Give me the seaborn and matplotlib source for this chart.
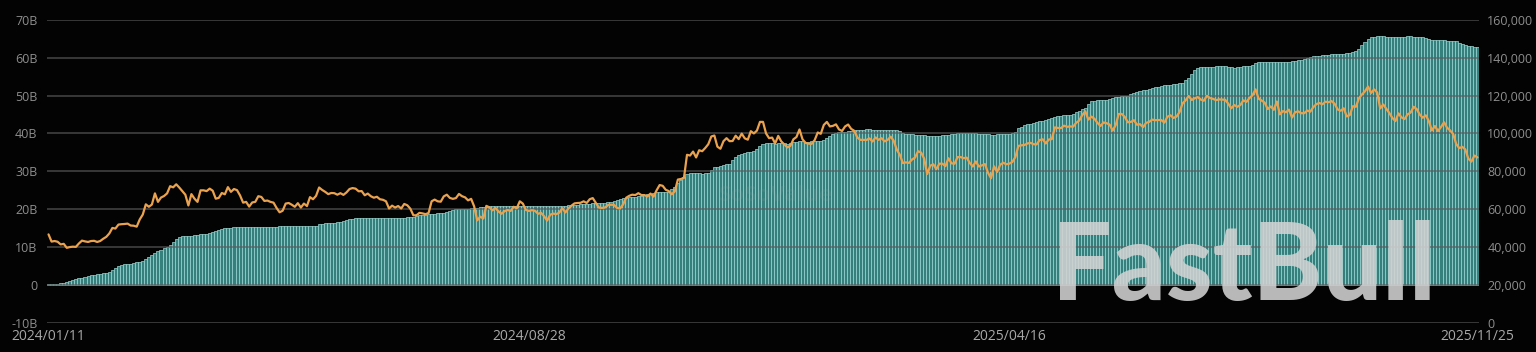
### cumulative net inflow of US spot BTC ETFs vs BTC price

import matplotlib
matplotlib.use('Agg')
import matplotlib.pyplot as plt
import numpy as np
import pandas as pd
import seaborn as sns

# NYSE holidays inside the plotted window (used to build the trading-day categories)
holidays = ['2024-01-15', '2024-02-19', '2024-03-29', '2024-05-27', '2024-06-19', '2024-07-04',
            '2024-09-02', '2024-11-28', '2024-12-25', '2025-01-01', '2025-01-09', '2025-01-20',
            '2025-02-17', '2025-04-18', '2025-05-26', '2025-06-19', '2025-07-04', '2025-09-01']

tick_dates = ['2024/01/11', '2024/08/28', '2025/04/16', '2025/11/25']

# cumulative total net inflow [B USD], one value per trading day
inflow = [
    # 2024 jan (from 11th)
    0.1, 0.2, 0.3, 0.3, 0.4, 0.5, 0.7, 1.0, 1.3, 1.5, 1.7, 1.9, 2.1, 2.3,
    # feb
    2.5, 2.6, 2.8, 2.9, 3.0, 3.2, 3.3, 3.8, 4.4, 4.9, 5.2, 5.4, 5.5, 5.6, 5.7, 5.9, 6.0, 6.3, 6.8, 7.3,
    # mar
    7.8, 8.3, 8.8, 9.2, 9.6, 9.9, 10.6, 11.4, 12.0, 12.6, 12.8, 12.9, 12.9, 13.0, 13.1, 13.2, 13.3, 13.4, 13.5, 13.7,
    # apr
    13.9, 14.1, 14.4, 14.7, 14.9, 15.0, 15.1, 15.2, 15.2, 15.3, 15.3, 15.3, 15.3, 15.3, 15.3, 15.3, 15.3, 15.3, 15.3, 15.3, 15.3, 15.3,
    # may
    15.4, 15.4, 15.4, 15.4, 15.4, 15.4, 15.4, 15.4, 15.4, 15.4, 15.4, 15.4, 15.5, 16.0, 16.1, 16.2, 16.3, 16.3, 16.4, 16.5, 16.6, 16.8,
    # jun
    17.1, 17.3, 17.5, 17.6, 17.7, 17.7, 17.7, 17.7, 17.7, 17.7, 17.7, 17.7, 17.6, 17.6, 17.6, 17.6, 17.6, 17.7, 17.7,
    # jul
    17.7, 17.8, 17.8, 17.8, 18.2, 18.4, 18.4, 18.5, 18.6, 18.7, 18.8, 18.9, 18.9, 18.9, 19.2, 19.5, 19.7, 19.9, 19.9, 19.9, 20.0, 20.1,
    # aug
    20.2, 20.3, 20.4, 20.5, 20.6, 20.6, 20.7, 20.7, 20.7, 20.8, 20.8, 20.8, 20.8, 20.8, 20.8, 20.8, 20.8, 20.9, 20.9, 20.9, 20.9, 20.9,
    # sep
    20.9, 20.9, 20.9, 20.9, 20.9, 20.9, 20.9, 20.9, 20.9, 20.9, 21.0, 21.0, 21.1, 21.2, 21.3, 21.3, 21.4, 21.4, 21.5, 21.5,
    # oct
    21.5, 21.6, 21.7, 21.8, 21.9, 22.0, 22.3, 22.6, 22.8, 22.9, 23.1, 23.3, 23.3, 23.4, 23.5, 23.7, 23.9, 24.1, 24.2, 24.4, 24.5, 24.6, 24.6,
    # nov
    24.6, 25.3, 25.9, 26.8, 27.7, 28.6, 29.4, 29.5, 29.5, 29.6, 29.5, 29.4, 29.5, 29.6, 30.3, 31.0, 31.2, 31.4, 31.7, 31.9,
    # dec
    32.0, 33.0, 33.9, 34.2, 34.5, 34.8, 35.0, 35.2, 35.4, 36.0, 36.7, 37.2, 37.5, 37.6, 37.4, 37.3, 37.5, 37.6, 37.5, 37.3, 37.5,
    # 2025 jan
    37.7, 37.8, 37.9, 37.9, 37.8, 37.8, 37.9, 37.9, 37.9, 38.0, 38.3, 38.9, 39.4, 39.8, 40.2, 40.4, 40.5, 40.5, 40.6, 40.7,
    # feb
    40.8, 40.9, 41.0, 41.0, 41.1, 41.1, 41.0, 41.0, 41.0, 41.0, 40.9, 40.9, 40.9, 40.9, 40.8, 40.6, 40.2, 39.9, 39.9,
    # mar
    39.8, 39.7, 39.6, 39.6, 39.5, 39.4, 39.4, 39.4, 39.4, 39.4, 39.5, 39.6, 39.7, 39.8, 39.9, 40.0, 40.0, 40.1, 40.1, 40.0, 40.0,
    # apr
    40.0, 39.9, 39.8, 39.8, 39.8, 39.7, 39.7, 39.8, 39.8, 39.8, 39.9, 39.9, 40.0, 40.3, 41.4, 41.8, 42.2, 42.5, 42.6, 42.8, 43.0,
    # may
    43.2, 43.4, 43.6, 43.9, 44.1, 44.3, 44.5, 44.6, 44.8, 45.0, 45.0, 45.2, 45.6, 46.0, 46.4, 46.7, 47.8, 48.5, 48.7, 48.9, 48.8,
    # jun
    48.9, 48.9, 49.1, 49.3, 49.6, 49.7, 49.8, 49.9, 50.0, 50.3, 50.6, 50.9, 51.1, 51.4, 51.6, 51.8, 52.0, 52.2, 52.4, 52.6,
    # jul
    52.7, 52.8, 52.9, 53.1, 53.2, 53.3, 53.4, 54.0, 54.7, 55.8, 56.9, 57.3, 57.5, 57.6, 57.6, 57.7, 57.7, 57.8, 57.8, 57.8, 57.8, 57.6,
    # aug
    57.5, 57.3, 57.5, 57.6, 57.8, 57.8, 57.9, 58.2, 58.5, 58.8, 58.9, 59.0, 59.0, 59.0, 58.9, 58.8, 58.8, 58.9, 59.0, 59.0, 59.1,
    # sep
    59.2, 59.3, 59.4, 59.6, 59.9, 60.2, 60.4, 60.5, 60.6, 60.7, 60.8, 60.8, 60.9, 61.0, 61.0, 61.0, 61.1, 61.2, 61.4, 61.6, 61.8,
    # oct
    62.4, 63.5, 64.3, 65.0, 65.5, 65.6, 65.7, 65.7, 65.7, 65.6, 65.6, 65.6, 65.5, 65.4, 65.5, 65.6, 65.7, 65.7, 65.6, 65.6, 65.5, 65.4, 65.2,
    # nov (to 25th)
    65.0, 64.8, 64.8, 64.7, 64.6, 64.6, 64.5, 64.5, 64.4, 64.4, 64.0, 63.6, 63.4, 63.2, 63.0, 62.9, 62.9,
]

# BTC price [k USD], one value per trading day
btc_price = [
    # 2024 jan (from 11th)
    46.6, 42.8, 43.1, 42.7, 41.3, 41.6, 39.5, 39.9, 40.1, 40.0, 41.8, 43.3, 42.9, 42.6,
    # feb
    43.1, 43.2, 42.6, 43.1, 44.3, 45.3, 47.1, 50.0, 49.7, 51.8, 52.0, 52.1, 52.3, 51.3, 51.2, 50.7, 54.5, 57.1, 62.5, 61.2,
    # mar
    62.4, 68.3, 63.8, 66.1, 66.9, 68.3, 72.1, 71.5, 73.1, 71.4, 69.5, 67.6, 61.9, 67.9, 65.5, 63.8, 69.9, 69.9, 69.5, 70.8,
    # apr
    69.7, 65.5, 65.9, 68.5, 67.8, 71.6, 69.1, 70.6, 70.0, 67.2, 63.4, 63.8, 61.3, 63.5, 63.8, 66.8, 66.4, 64.3, 64.5, 63.8, 63.4, 60.6,
    # may
    58.3, 59.1, 62.9, 63.2, 62.3, 61.2, 63.1, 60.8, 62.9, 61.6, 66.3, 65.2, 67.0, 71.4, 70.1, 69.1, 67.9, 68.5, 68.4, 67.6, 68.4, 67.5,
    # jun
    68.8, 70.6, 71.1, 70.8, 69.4, 69.5, 67.3, 68.2, 66.8, 66.0, 66.5, 65.2, 64.9, 64.1, 60.3, 61.8, 60.8, 61.6, 60.3,
    # jul
    62.7, 62.0, 60.2, 56.7, 56.7, 58.0, 57.7, 57.3, 57.9, 64.1, 65.0, 64.1, 63.9, 66.7, 67.6, 65.9, 65.4, 65.8, 68.0, 66.8, 66.2, 64.6,
    # aug
    65.4, 61.4, 54.0, 56.0, 55.0, 61.7, 60.9, 59.3, 60.6, 58.7, 57.5, 58.9, 59.5, 59.0, 61.2, 60.4, 64.1, 62.9, 59.5, 59.0, 59.4, 59.1,
    # sep
    57.5, 58.0, 56.2, 53.9, 57.0, 57.6, 57.3, 58.1, 60.5, 58.2, 60.3, 61.8, 63.0, 63.2, 63.3, 64.1, 63.2, 65.2, 65.8, 63.3,
    # oct
    60.8, 60.6, 60.8, 62.1, 62.3, 62.2, 60.6, 60.3, 62.5, 66.0, 67.0, 67.6, 67.4, 68.4, 67.4, 67.4, 66.7, 68.2, 66.6, 69.9, 72.7, 72.3, 70.2,
    # nov
    69.5, 67.8, 69.4, 75.6, 75.9, 76.5, 88.7, 88.3, 90.4, 87.3, 91.1, 90.6, 92.3, 94.3, 98.4, 98.9, 93.0, 91.9, 95.9, 97.5,
    # dec
    95.9, 96.0, 98.8, 97.0, 99.9, 97.4, 96.7, 101.2, 100.0, 101.5, 106.1, 106.1, 100.0, 97.5, 97.8, 94.7, 98.7, 95.8, 94.2, 92.6, 93.4,
    # 2025 jan
    96.9, 98.1, 102.1, 96.9, 95.0, 94.6, 94.5, 96.5, 100.5, 99.8, 104.5, 106.1, 103.7, 104.0, 104.8, 102.1, 101.3, 103.7, 104.7, 102.4,
    # feb
    101.4, 97.9, 96.6, 96.6, 96.5, 97.4, 95.7, 97.9, 96.6, 97.5, 95.8, 96.6, 98.3, 96.1, 91.4, 88.7, 84.3, 84.7, 84.4,
    # mar
    86.2, 87.2, 90.6, 89.9, 86.7, 78.5, 82.9, 83.7, 81.1, 84.0, 84.0, 82.7, 86.9, 84.2, 84.0, 87.5, 87.5, 86.9, 87.2, 84.4, 82.5,
    # apr
    85.2, 82.5, 83.1, 83.8, 79.2, 76.3, 82.6, 79.6, 83.4, 84.5, 83.7, 84.0, 84.9, 87.5, 93.4, 93.7, 93.9, 94.7, 95.0, 94.3, 94.2,
    # may
    96.5, 96.9, 94.7, 96.8, 97.0, 103.2, 102.9, 102.8, 104.1, 103.5, 103.7, 103.6, 105.6, 106.8, 109.7, 111.7, 107.3, 108.9, 107.8, 105.6, 103.9,
    # jun
    105.8, 105.4, 104.7, 101.5, 104.4, 110.3, 110.3, 108.7, 105.9, 106.1, 107.0, 104.6, 104.9, 103.3, 105.6, 106.1, 107.3, 107.0, 107.1, 107.1,
    # jul
    105.7, 108.8, 109.6, 108.2, 108.9, 111.3, 115.9, 117.5, 119.8, 117.7, 118.6, 119.2, 117.9, 117.3, 119.9, 118.7, 118.3, 117.6, 118.0, 117.9, 117.8, 115.8,
    # aug
    113.3, 115.0, 114.1, 115.0, 117.5, 116.7, 118.7, 120.2, 123.3, 118.4, 117.4, 116.3, 112.9, 114.3, 112.5, 116.9, 110.1, 111.8, 111.2, 112.6, 108.4,
    # sep
    111.2, 111.7, 110.7, 110.7, 112.1, 111.5, 113.9, 115.5, 116.1, 115.4, 116.8, 116.5, 117.1, 115.7, 112.7, 112.0, 113.3, 109.0, 109.7, 114.4, 114.1,
    # oct
    118.6, 120.6, 122.3, 124.8, 121.4, 123.3, 121.7, 113.2, 115.3, 113.0, 110.8, 108.2, 106.5, 110.6, 108.5, 107.6, 110.1, 111.0, 114.1, 112.9, 110.0, 108.3, 109.6,
    # nov (to 25th)
    106.5, 101.6, 103.9, 101.3, 103.4, 105.9, 103.0, 101.6, 99.7, 94.4, 92.2, 92.9, 91.5, 86.6, 85.1, 88.3, 87.3,
]

dates = pd.bdate_range('2024-01-11', '2025-11-25', freq='C', holidays=holidays).strftime('%Y/%m/%d').tolist()
if len(dates) != len(inflow) or len(dates) != len(btc_price):
    raise RuntimeError(f'length mismatch: dates {len(dates)}, inflow {len(inflow)}, price {len(btc_price)}')

df = pd.DataFrame({'pos': np.arange(len(dates)), 'date': dates,
                   'inflow': inflow, 'price': np.asarray(btc_price) * 1000})

sns.set_theme(style='dark')
plt.rcParams['font.family'] = ['Open Sans', 'DejaVu Sans']

bg = '#030303'
txt = '#8e8e8e'
fig = plt.figure(figsize=(15.36, 3.52), dpi=100, facecolor=bg)
ax = fig.add_axes([0.0306, 0.0838, 0.9323, 0.8594])
ax.set_facecolor(bg)

# bars touch each other, the light edges give the fine vertical stripes
sns.barplot(data=df, x='pos', y='inflow', color='#357f7c', saturation=1, width=1.0,
            edgecolor='#a8e6e2', linewidth=0.45, ax=ax)
ax.set_ylim(-10, 70)
ax.set_xlim(-0.5, len(dates) - 0.5)
ax.set_yticks(range(-10, 80, 10))
ax.set_yticklabels(['-10B', '0', '10B', '20B', '30B', '40B', '50B', '60B', '70B'])
ax.grid(axis='y', color='#5a5a5a', lw=1.2, alpha=0.7)
ax.grid(axis='x', visible=False)
ax.set_axisbelow(False)
tick_pos = [dates.index(d) for d in tick_dates]
ax.set_xticks(tick_pos)
ax.set_xticklabels(tick_dates, color='#a8a8a8', fontsize=10)
ax.tick_params(axis='y', colors=txt, labelsize=9, pad=7, length=0)
ax.tick_params(axis='x', pad=5, length=0)
ax.set_xlabel('')
ax.set_ylabel('')
for s in ax.spines.values():
    s.set_visible(False)

# BTC price on the right axis
ax2 = ax.twinx()
sns.lineplot(data=df, x='pos', y='price', color='#eba24e', lw=1.6, ax=ax2)
ax2.set_ylim(0, 160000)
ax2.set_yticks(range(0, 180000, 20000))
ax2.set_yticklabels([f'{v:,}' for v in range(0, 180000, 20000)])
ax2.tick_params(axis='y', colors=txt, labelsize=9, pad=6, length=0)
ax2.grid(False)
ax2.set_ylabel('')
for s in ax2.spines.values():
    s.set_visible(False)

# watermarks
fig.text(0.505, 0.445, 'SoSoValue', color='#9aa6a6', alpha=0.13, fontsize=16,
         ha='center', va='center', fontweight='bold')
fig.text(0.685, 0.148, 'FastBull', color='#d2d2d2', alpha=0.88, fontsize=76,
         ha='left', va='baseline', fontweight='black', family=['Lato', 'DejaVu Sans'])

fig.savefig('out.png', dpi=100, facecolor=bg)
